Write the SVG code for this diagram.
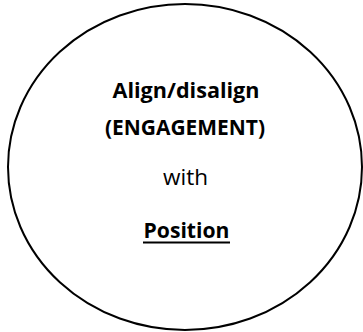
<svg xmlns="http://www.w3.org/2000/svg" width="363" height="332" viewBox="0 0 363 332">
<style>
.t{font-family:"Open Sans","Noto Sans",sans-serif;fill:#000;text-anchor:middle;font-size:21px}
.b{font-weight:bold}
</style>
<rect width="363" height="332" fill="#fff"/>
<g id="circle-node">
<ellipse cx="185" cy="167" rx="177" ry="163" fill="none" stroke="#000" stroke-width="2"/>
<text class="t b" x="186" y="98" textLength="147" lengthAdjust="spacingAndGlyphs">Align/disalign</text>
<text class="t b" x="185" y="135" textLength="160" lengthAdjust="spacingAndGlyphs">(ENGAGEMENT)</text>
<text class="t" x="185.5" y="185" textLength="45" lengthAdjust="spacingAndGlyphs">with</text>
<text class="t b" x="186.5" y="238" textLength="86" lengthAdjust="spacingAndGlyphs">Position</text>
<line x1="143" y1="242.5" x2="230" y2="242.5" stroke="#000" stroke-width="2"/>
</g>
</svg>
